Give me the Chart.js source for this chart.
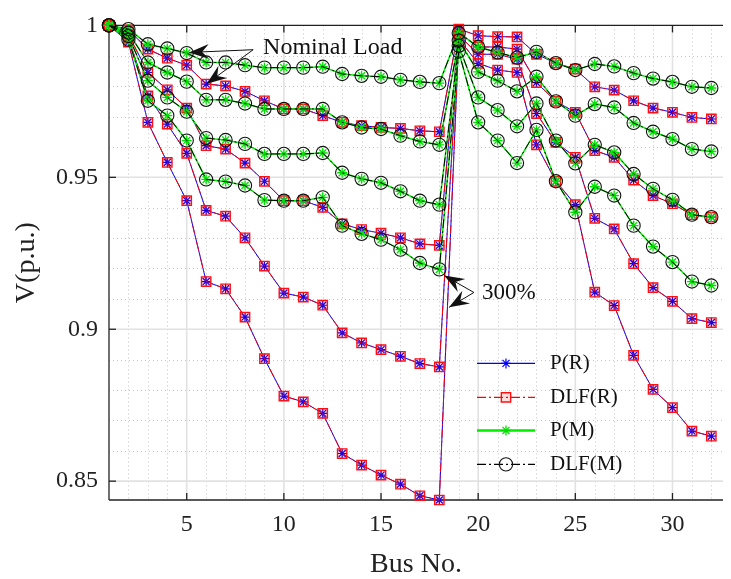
<!DOCTYPE html>
<html>
<head>
<meta charset="utf-8">
<script src="https://cdn.jsdelivr.net/npm/chart.js@4/dist/chart.umd.min.js"></script>
<style>
  html, body { margin: 0; padding: 0; background: #fff; }
</style>
</head>
<body>
<canvas id="my_chart" width="731" height="579"></canvas>
<script>
// bus numbers (x axis)
const busNo = [1, 2, 3, 4, 5, 6, 7, 8, 9, 10, 11, 12, 13, 14, 15, 16,
               17, 18, 19, 20, 21, 22, 23, 24, 25, 26, 27, 28, 29, 30, 31, 32];

// radial network, 4 load levels (nominal ... 300%)
const radialNominal = [1.0000, 0.9985, 0.9922, 0.9892, 0.9869, 0.9807, 0.9801, 0.9783, 0.9752, 0.9725, 0.9725, 0.9703, 0.9681, 0.9670, 0.9664, 0.9661,
                       0.9653, 0.9650, 0.9988, 0.9966, 0.9963, 0.9962, 0.9905, 0.9876, 0.9856, 0.9798, 0.9787, 0.9752, 0.9728, 0.9714, 0.9697, 0.9692];
const radialLoad2   = [1.0000, 0.9970, 0.9845, 0.9788, 0.9728, 0.9604, 0.9593, 0.9547, 0.9487, 0.9423, 0.9423, 0.9401, 0.9347, 0.9328, 0.9316, 0.9301,
                       0.9281, 0.9276, 0.9978, 0.9929, 0.9929, 0.9922, 0.9812, 0.9750, 0.9714, 0.9588, 0.9566, 0.9491, 0.9440, 0.9413, 0.9377, 0.9369];
const radialLoad3   = [1.0000, 0.9958, 0.9768, 0.9675, 0.9579, 0.9391, 0.9372, 0.9301, 0.9208, 0.9119, 0.9106, 0.9079, 0.8988, 0.8955, 0.8933, 0.8911,
                       0.8887, 0.8876, 0.9968, 0.9905, 0.9905, 0.9889, 0.9710, 0.9615, 0.9566, 0.9365, 0.9330, 0.9216, 0.9137, 0.9092, 0.9035, 0.9022];
const radial300     = [1.0000, 0.9945, 0.9681, 0.9549, 0.9423, 0.9157, 0.9133, 0.9040, 0.8903, 0.8780, 0.8761, 0.8723, 0.8591, 0.8553, 0.8520, 0.8490,
                       0.8452, 0.8438, 0.9955, 0.9875, 0.9853, 0.9845, 0.9607, 0.9487, 0.9410, 0.9122, 0.9078, 0.8914, 0.8802, 0.8742, 0.8665, 0.8648];

// meshed network, same load levels
const meshedNominal = [1.0000, 0.9988, 0.9938, 0.9924, 0.9909, 0.9878, 0.9878, 0.9869, 0.9861, 0.9861, 0.9861, 0.9864, 0.9840, 0.9834, 0.9831, 0.9821,
                       0.9814, 0.9810, 0.9975, 0.9929, 0.9911, 0.9894, 0.9913, 0.9876, 0.9853, 0.9873, 0.9865, 0.9843, 0.9825, 0.9814, 0.9798, 0.9794];
const meshedLoad2   = [1.0000, 0.9976, 0.9878, 0.9845, 0.9815, 0.9755, 0.9755, 0.9743, 0.9725, 0.9725, 0.9725, 0.9725, 0.9681, 0.9664, 0.9659, 0.9637,
                       0.9618, 0.9607, 0.9950, 0.9847, 0.9818, 0.9783, 0.9831, 0.9750, 0.9703, 0.9741, 0.9730, 0.9679, 0.9650, 0.9626, 0.9593, 0.9585];
const meshedLoad3   = [1.0000, 0.9965, 0.9818, 0.9763, 0.9716, 0.9629, 0.9623, 0.9610, 0.9577, 0.9577, 0.9577, 0.9580, 0.9515, 0.9495, 0.9482, 0.9454,
                       0.9423, 0.9410, 0.9933, 0.9763, 0.9721, 0.9668, 0.9743, 0.9621, 0.9546, 0.9607, 0.9582, 0.9511, 0.9462, 0.9426, 0.9377, 0.9369];
const meshed300     = [1.0000, 0.9953, 0.9752, 0.9703, 0.9621, 0.9493, 0.9486, 0.9473, 0.9425, 0.9423, 0.9423, 0.9434, 0.9341, 0.9314, 0.9295, 0.9262,
                       0.9218, 0.9197, 0.9914, 0.9681, 0.9621, 0.9547, 0.9656, 0.9487, 0.9385, 0.9469, 0.9440, 0.9341, 0.9272, 0.9221, 0.9157, 0.9144];

const radialSets = [radialNominal, radialLoad2, radialLoad3, radial300];
const meshedSets = [meshedNominal, meshedLoad2, meshedLoad3, meshed300];

const xTicks = [5, 10, 15, 20, 25, 30];
const yTicks = [0.85, 0.9, 0.95, 1];
const legendNames = ['P(R)', 'DLF(R)', 'P(M)', 'DLF(M)'];

const FONT = '"Liberation Serif", "DejaVu Serif", serif';
const DASHDOT = [9, 3, 2, 3];

// line / marker styles for the four methods
const styles = {
  pR:  { borderColor: '#0000ff', borderWidth: 1, pointStyle: 'star', pointRadius: 5,
         pointBorderColor: '#0000ff', pointBackgroundColor: '#0000ff', pointBorderWidth: 1.2, order: 4 },
  dlfR:{ borderColor: '#ff0000', borderWidth: 1, borderDash: DASHDOT, pointStyle: 'rect', pointRadius: 6.6,
         pointBorderColor: '#ff1010', pointBackgroundColor: 'rgba(255,0,0,0.13)', pointBorderWidth: 1.4, order: 3 },
  pM:  { borderColor: '#00ee00', borderWidth: 1.5, pointStyle: 'star', pointRadius: 5,
         pointBorderColor: '#00e000', pointBackgroundColor: '#00e000', pointBorderWidth: 1.3, order: 2 },
  dlfM:{ borderColor: '#000000', borderWidth: 1, borderDash: DASHDOT, pointStyle: 'circle', pointRadius: 6.6,
         pointBorderColor: '#111111', pointBackgroundColor: 'rgba(0,0,0,0)', pointBorderWidth: 1.1, order: 1 }
};
const legendStyles = [styles.pR, styles.dlfR, styles.pM, styles.dlfM];

function toPoints(values) {
  return values.map((v, i) => ({ x: busNo[i], y: v }));
}

function makeSet(label, values, st) {
  return Object.assign({ label: label, data: toPoints(values), fill: false, tension: 0, clip: false,
                         pointHoverRadius: st.pointRadius }, st);
}

const datasets = [];
radialSets.forEach(v => {
  datasets.push(makeSet('P(R)', v, styles.pR));
  datasets.push(makeSet('DLF(R)', v, styles.dlfR));
});
meshedSets.forEach(v => {
  datasets.push(makeSet('P(M)', v, styles.pM));
  datasets.push(makeSet('DLF(M)', v, styles.dlfM));
});

// annotation anchors, in data units
const nominalNote = { text: 'Nominal Load', x: 8.93, y: 0.9926, from: [8.42, 0.9920], tips: [[5.12, 0.9911], [6.03, 0.9808]] };
const overNote    = { text: '300%', x: 20.2, y: 0.9121, from: [19.78, 0.9121], tips: [[18.25, 0.9177], [18.5, 0.9072]] };

function hline(ctx, x0, x1, y) { ctx.beginPath(); ctx.moveTo(x0, y); ctx.lineTo(x1, y); ctx.stroke(); }
function vline(ctx, x, y0, y1) { ctx.beginPath(); ctx.moveTo(x, y0); ctx.lineTo(x, y1); ctx.stroke(); }

// MATLAB-like grid, box and inward ticks
const framePlugin = {
  id: 'frame',
  beforeDatasetsDraw(chart) {
    const { ctx, chartArea: a, scales: { x, y } } = chart;
    ctx.save();
    // minor dotted grid
    ctx.strokeStyle = '#c4c4c4';
    ctx.lineWidth = 1;
    ctx.setLineDash([1, 3]);
    for (let b = 2; b <= 32; b++) {
      if (b % 5 === 0) continue;
      vline(ctx, Math.round(x.getPixelForValue(b)) + 0.5, a.top, a.bottom);
    }
    for (let k = 85; k < 100; k++) {
      if (k % 5 === 0) continue;
      hline(ctx, a.left, a.right, Math.round(y.getPixelForValue(k / 100)) + 0.5);
    }
    // major grid
    ctx.setLineDash([]);
    ctx.strokeStyle = '#e2e2e2';
    ctx.lineWidth = 1.6;
    xTicks.forEach(t => vline(ctx, x.getPixelForValue(t), a.top, a.bottom));
    yTicks.forEach(t => { if (t < 1) hline(ctx, a.left, a.right, y.getPixelForValue(t)); });
    // box
    ctx.strokeStyle = '#222';
    ctx.lineWidth = 1.3;
    hline(ctx, a.left, a.right, a.top);
    hline(ctx, a.left, a.right, a.bottom);
    vline(ctx, a.left, a.top, a.bottom);
    // inward ticks
    const tl = 7;
    xTicks.forEach(t => {
      const px = x.getPixelForValue(t);
      vline(ctx, px, a.bottom, a.bottom - tl);
      vline(ctx, px, a.top, a.top + tl);
    });
    yTicks.forEach(t => {
      const py = y.getPixelForValue(t);
      hline(ctx, a.left, a.left + tl, py);
    });
    ctx.restore();
  }
};

function arrow(ctx, x0, y0, x1, y1) {
  ctx.beginPath(); ctx.moveTo(x0, y0); ctx.lineTo(x1, y1); ctx.stroke();
  const ang = Math.atan2(y1 - y0, x1 - x0);
  const L = 20, W = 7.5;
  const c = Math.cos(ang), s = Math.sin(ang);
  const bx = x1 - L * c, by = y1 - L * s;
  const nx = x1 - 0.65 * L * c, ny = y1 - 0.65 * L * s;
  ctx.beginPath();
  ctx.moveTo(x1, y1);
  ctx.lineTo(bx + W * s, by - W * c);
  ctx.lineTo(nx, ny);
  ctx.lineTo(bx - W * s, by + W * c);
  ctx.closePath();
  ctx.fill();
}

function drawNote(chart, note, size) {
  const { ctx, scales: { x, y } } = chart;
  ctx.save();
  ctx.fillStyle = '#111';
  ctx.strokeStyle = '#111';
  ctx.lineWidth = 1;
  const fx = x.getPixelForValue(note.from[0]), fy = y.getPixelForValue(note.from[1]);
  note.tips.forEach(t => arrow(ctx, fx, fy, x.getPixelForValue(t[0]), y.getPixelForValue(t[1])));
  ctx.font = size + 'px ' + FONT;
  ctx.textBaseline = 'middle';
  ctx.textAlign = 'left';
  ctx.fillText(note.text, x.getPixelForValue(note.x), y.getPixelForValue(note.y));
  ctx.restore();
}

// legend: line sample with a marker in the middle, no box
const legendPlugin = {
  id: 'lineLegend',
  afterDatasetsDraw(chart) {
    const { ctx, chartArea: a } = chart;
    const x0 = a.left + 368, x1 = a.left + 426, tx = a.left + 441;
    const rowY = [a.top + 338, a.top + 372, a.top + 405, a.top + 439];
    ctx.save();
    legendStyles.forEach((st, i) => {
      const yy = rowY[i];
      ctx.strokeStyle = st.borderColor;
      ctx.lineWidth = st === styles.pM ? 2.5 : 1.2;
      ctx.setLineDash(st.borderDash || []);
      hline(ctx, x0, x1, yy);
      ctx.setLineDash([]);
      ctx.strokeStyle = st.pointBorderColor;
      ctx.fillStyle = st.pointBackgroundColor;
      ctx.lineWidth = st.pointBorderWidth;
      Chart.helpers.drawPoint(ctx, { pointStyle: st.pointStyle, radius: st.pointRadius, rotation: 0,
                                     borderWidth: st.pointBorderWidth }, (x0 + x1) / 2, yy);
      ctx.fillStyle = '#111';
      ctx.font = '21px ' + FONT;
      ctx.textBaseline = 'middle';
      ctx.fillText(legendNames[i], tx, yy);
    });
    ctx.restore();
    drawNote(chart, nominalNote, 24);
    drawNote(chart, overNote, 23);
  }
};

const ctx = document.getElementById('my_chart').getContext('2d');
new Chart(ctx, {
  type: 'line',
  data: { datasets: datasets },
  options: {
    responsive: false,
    animation: false,
    devicePixelRatio: 1,
    layout: { padding: { top: 25, right: 0, bottom: 0, left: 0 } },
    plugins: { legend: { display: false }, tooltip: { enabled: false } },
    scales: {
      x: {
        type: 'linear', min: 1, max: 32.6,
        afterFit(s) { s.height = 79; },
        grid: { display: false, drawTicks: false },
        border: { display: false },
        ticks: { stepSize: 5, includeBounds: false, padding: 10, maxRotation: 0, color: '#222',
                 font: { family: FONT, size: 24 } },
        title: { display: true, text: 'Bus No.', color: '#222', font: { family: FONT, size: 28 },
                 padding: { top: 0, bottom: -2 } }
      },
      y: {
        type: 'linear', min: 0.8438, max: 1,
        afterFit(s) { s.width = 109; },
        grid: { display: false, drawTicks: false },
        border: { display: false },
        ticks: { stepSize: 0.05, includeBounds: false, padding: 11, color: '#222',
                 font: { family: FONT, size: 24 },
                 callback: v => String(+v.toFixed(2)) },
        title: { display: true, text: 'V(p.u.)', color: '#222', font: { family: FONT, size: 28 },
                 padding: { top: 10, bottom: 0 } }
      }
    }
  },
  plugins: [framePlugin, legendPlugin]
});
</script>
</body>
</html>
